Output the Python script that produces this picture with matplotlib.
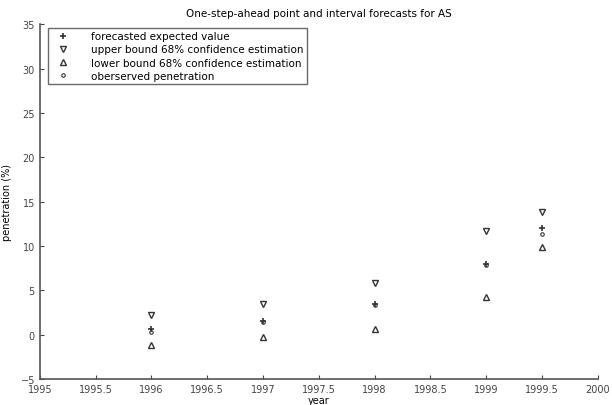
import matplotlib
matplotlib.use('Agg')
import matplotlib.pyplot as plt

years = [1996, 1997, 1998, 1999, 1999.5]
forecast = [0.6, 1.5, 3.4, 8.0, 12.0]
upper = [2.2, 3.5, 5.8, 11.7, 13.8]
lower = [-1.2, -0.3, 0.6, 4.2, 9.9]
observed = [0.3, 1.4, 3.3, 7.9, 11.3]

xticks = [1995, 1995.5, 1996, 1996.5, 1997, 1997.5, 1998, 1998.5, 1999, 1999.5, 2000]
xticklabels = ['1995', '1995.5', '1996', '1996.5', '1997', '1997.5', '1998', '1998.5', '1999', '1999.5', '2000']
yticks = [-5, 0, 5, 10, 15, 20, 25, 30, 35]

plt.rcParams['font.family'] = 'DejaVu Sans'
fig = plt.figure(figsize=(6.12, 4.06), dpi=100)
ax = fig.add_axes([0.065, 0.064, 0.912, 0.874])

c = '#333333'
ax.plot(years, forecast, linestyle='none', marker='+', ms=5, mew=1.2, color=c,
        label='forecasted expected value')
ax.plot(years, upper, linestyle='none', marker='v', ms=4, mfc='none', mew=1, color=c,
        label='upper bound 68% confidence estimation')
ax.plot(years, lower, linestyle='none', marker='^', ms=4, mfc='none', mew=1, color=c,
        label='lower bound 68% confidence estimation')
ax.plot(years, observed, linestyle='none', marker='o', ms=2.5, mfc='none', mew=0.8, color=c,
        label='oberserved penetration')

ax.set_xlim(1995, 2000)
ax.set_ylim(-5, 35)
ax.set_xticks(xticks)
ax.set_xticklabels(xticklabels)
ax.set_yticks(yticks)
ax.tick_params(direction='in', labelsize=7, length=3, colors='#444444')
for s in ['top', 'right']:
    ax.spines[s].set_visible(False)
for s in ['left', 'bottom']:
    ax.spines[s].set_color('#555555')
    ax.spines[s].set_linewidth(1.2)

ax.set_xlabel('year', fontsize=7, labelpad=1)
ax.set_ylabel('penetration (%)', fontsize=7, labelpad=6)
ax.set_title('One-step-ahead point and interval forecasts for AS', fontsize=7.5, pad=6)

leg = ax.legend(loc='upper left', fontsize=7.5, frameon=True, fancybox=False,
                edgecolor='#444444', borderpad=0.35, labelspacing=0.3,
                handlelength=2.2, handletextpad=1.6, borderaxespad=0,
                bbox_to_anchor=(0.014, 0.99))
leg.get_frame().set_linewidth(1.0)

fig.savefig('out.png', dpi=100)
